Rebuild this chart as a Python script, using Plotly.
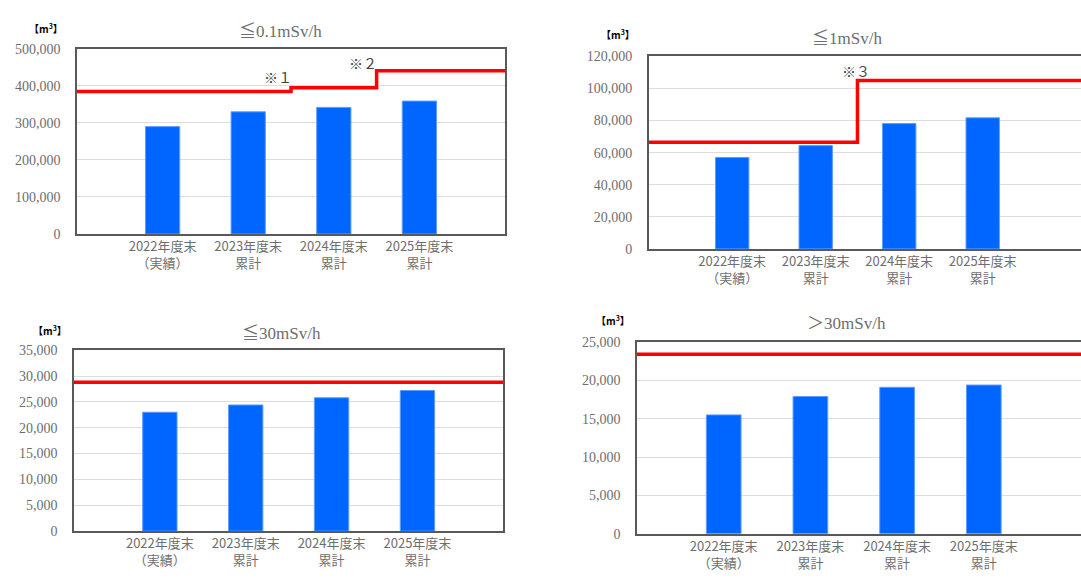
import plotly.graph_objects as go

# ---------------- data ----------------
categories = ["2022年度末<br>（実績）", "2023年度末<br>累計", "2024年度末<br>累計", "2025年度末<br>累計"]
cat_pos = [1, 2, 3, 4]

titles = ["≦0.1mSv/h", "≦1mSv/h", "≦30mSv/h", "＞30mSv/h"]

vol_01 = [290000, 330000, 342000, 359000]      # ≦0.1mSv/h
vol_1 = [57000, 64400, 78100, 81700]           # ≦1mSv/h
vol_30 = [23000, 24400, 25800, 27200]          # ≦30mSv/h
vol_over30 = [15500, 17900, 19100, 19400]      # >30mSv/h

cap_01 = [385000, 385000, 395000, 441000]
cap_1 = [66500, 66500, 105000, 105000]
cap_30 = [28800, 28800, 28800, 28800]
cap_over30 = [23400, 23400, 23400, 23400]

y_max = [500000, 120000, 35000, 25000]
y_step = [100000, 20000, 5000, 5000]

notes_01 = [("※１", 2.35, 424000), ("※２", 3.34, 461000)]
notes_1 = [("※３", 2.48, 110700)]

# ---------------- layout geometry ----------------
W, H = 1081, 580
panels = [
    dict(x0=77, x1=505, yt=43, yb=233, xr=5.0, tx=280, ty=25, ux=46, uy=22, mirror_y=True),
    dict(x0=648.7, x1=1081, yt=50.7, yb=248.3, xr=(1081 - 648.7) / 83.5, tx=847, ty=32, ux=618, uy=28, mirror_y=False),
    dict(x0=74, x1=503.3, yt=352.3, yb=538, xr=5.0, tx=281, ty=335, ux=50, uy=332, mirror_y=True),
    dict(x0=637, x1=1081, yt=344, yb=540.7, xr=(1081 - 637) / 86.7, tx=846, ty=325, ux=613, uy=322, mirror_y=False),
]
vols = [vol_01, vol_1, vol_30, vol_over30]
caps = [cap_01, cap_1, cap_30, cap_over30]
notes = [notes_01, notes_1, [], []]

fig = go.Figure()
annotations = []
axis_color = "#595959"
text_gray = "#6E6E6E"
num_font = "Liberation Serif, DejaVu Serif, Noto Sans CJK JP, serif"
cjk_font = "Noto Sans CJK JP, sans-serif"

for i, p in enumerate(panels):
    k = "" if i == 0 else str(i + 1)
    xa, ya = "x" + k, "y" + k
    fig.add_trace(go.Bar(
        x=cat_pos, y=vols[i], width=0.4,
        marker=dict(color="#0066FF", line=dict(color="#5C9DFF", width=1)),
        xaxis=xa, yaxis=ya, showlegend=False, hoverinfo="y",
    ))
    xr = p["xr"]
    cx = [0] + cat_pos + [xr]
    cy = [caps[i][0]] + caps[i] + [caps[i][-1]]
    fig.add_trace(go.Scatter(
        x=cx, y=cy, mode="lines", line=dict(color="#FF0000", width=3.5, shape="hvh"),
        xaxis=xa, yaxis=ya, showlegend=False, hoverinfo="skip", cliponaxis=False,
    ))
    fig.update_layout(**{
        "xaxis" + k: dict(
            domain=[p["x0"] / W, min(p["x1"] / W, 1.0)], anchor=ya, range=[0, xr],
            tickvals=cat_pos, ticktext=categories, showgrid=False, zeroline=False,
            showline=True, linecolor=axis_color, linewidth=1.5, mirror=True,
            ticks="", tickfont=dict(family=cjk_font, size=13, color=text_gray),
            fixedrange=True,
        ),
        "yaxis" + k: dict(
            domain=[1 - p["yb"] / H, 1 - p["yt"] / H], anchor=xa,
            range=[0, y_max[i]], dtick=y_step[i], tick0=0, tickformat=",",
            showgrid=True, gridcolor="#DDDDDD", gridwidth=1, zeroline=False,
            showline=True, linecolor=axis_color, linewidth=1.5, mirror=p["mirror_y"],
            ticks="", ticklabelstandoff=12,
            tickfont=dict(family=num_font, size=14, color=text_gray),
            fixedrange=True,
        ),
    })
    annotations.append(dict(
        text=titles[i], xref="paper", yref="paper", x=p["tx"] / W, y=1 - p["ty"] / H,
        xanchor="center", yanchor="middle", showarrow=False,
        font=dict(family=num_font, size=17, color=text_gray),
    ))
    annotations.append(dict(
        text="<b>【m<sup>3</sup>】</b>", xref="paper", yref="paper", x=p["ux"] / W, y=1 - p["uy"] / H,
        xanchor="center", yanchor="middle", showarrow=False,
        font=dict(family=cjk_font, size=10, color="#000000"),
    ))
    for txt, nx, ny in notes[i]:
        annotations.append(dict(
            text=txt, xref=xa, yref=ya, x=nx, y=ny, xanchor="center", yanchor="middle",
            showarrow=False, font=dict(family=cjk_font, size=14, color="#404040"),
        ))

fig.update_layout(
    width=W, height=H, margin=dict(l=0, r=0, t=0, b=0),
    paper_bgcolor="white", plot_bgcolor="white",
    annotations=annotations, bargap=0.6,
)

fig.write_html("out.html", config={"displayModeBar": False})
